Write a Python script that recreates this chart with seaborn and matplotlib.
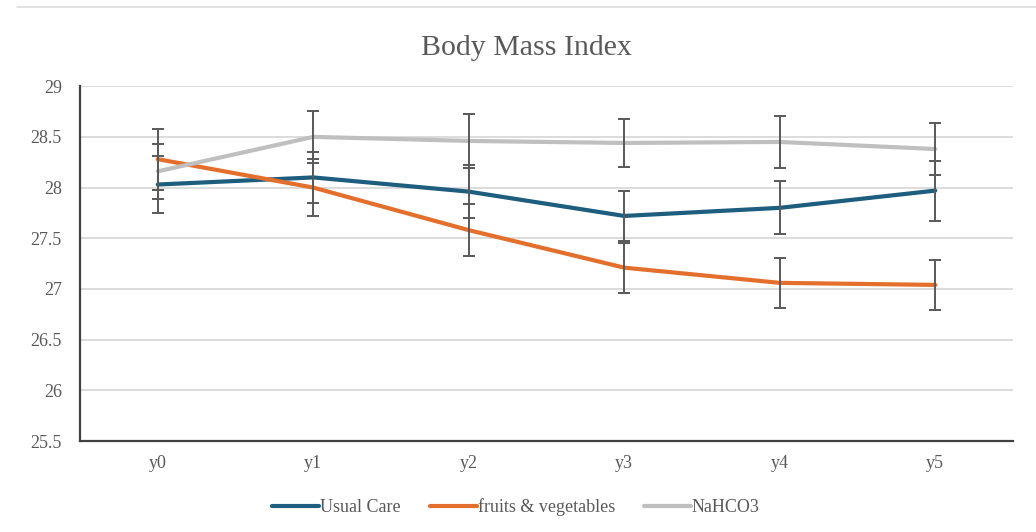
"""
Body Mass Index over follow-up years, by treatment group
"""
import pandas as pd
import matplotlib.pyplot as plt
import matplotlib.lines as mlines
import seaborn as sns

# Data
years = ['y0', 'y1', 'y2', 'y3', 'y4', 'y5']
usual_care = [28.03, 28.10, 27.96, 27.72, 27.80, 27.97]
usual_care_err = [0.28, 0.25, 0.265, 0.245, 0.26, 0.295]
fruits_veg = [28.28, 28.00, 27.58, 27.21, 27.06, 27.04]
fruits_veg_err = [0.30, 0.28, 0.255, 0.245, 0.25, 0.25]
nahco3 = [28.16, 28.50, 28.46, 28.44, 28.45, 28.38]
nahco3_err = [0.27, 0.26, 0.27, 0.24, 0.255, 0.26]

groups = ['Usual Care', 'fruits & vegetables', 'NaHCO3']
colors = ['#1D5D7E', '#E46F2C', '#BFBFBF']

df = pd.concat([
    pd.DataFrame({'year': years, 'x': range(len(years)), 'bmi': usual_care,
                  'err': usual_care_err, 'group': groups[0]}),
    pd.DataFrame({'year': years, 'x': range(len(years)), 'bmi': fruits_veg,
                  'err': fruits_veg_err, 'group': groups[1]}),
    pd.DataFrame({'year': years, 'x': range(len(years)), 'bmi': nahco3,
                  'err': nahco3_err, 'group': groups[2]}),
])

sns.set_style("white")
plt.rcParams['font.family'] = ['Liberation Serif', 'DejaVu Serif']

fig = plt.figure(figsize=(10.36, 5.32), dpi=100)
ax = fig.add_axes([0.0772, 0.171, 0.9006, 0.667])

sns.lineplot(data=df, x='x', y='bmi', hue='group', palette=colors,
             hue_order=groups, linewidth=3, legend=False, ax=ax, zorder=2)

# error bars drawn on top of the lines
for g in groups:
    sub = df[df['group'] == g]
    ax.errorbar(sub['x'], sub['bmi'], yerr=sub['err'], fmt='none',
                ecolor='#595959', elinewidth=1.4, capsize=4, capthick=1.4,
                zorder=3)

ax.set_xlim(-0.5, len(years) - 0.5)
ax.set_ylim(25.5, 29)
ax.set_yticks([25.5, 26, 26.5, 27, 27.5, 28, 28.5, 29])
ax.set_yticklabels(['25.5', '26', '26.5', '27', '27.5', '28', '28.5', '29'])
ax.set_xticks(range(len(years)))
ax.set_xticklabels(years)
ax.set_xlabel('')
ax.set_ylabel('')
ax.grid(axis='y', color='#D9D9D9', linewidth=1.3)
ax.set_axisbelow(True)
ax.tick_params(axis='both', length=0, labelsize=13, colors='#595959')
ax.tick_params(axis='x', pad=10)
ax.tick_params(axis='y', pad=13)
for s in ['top', 'right']:
    ax.spines[s].set_visible(False)
for s in ['left', 'bottom']:
    ax.spines[s].set_color('#404040')
    ax.spines[s].set_linewidth(1.6)

# title is centred on the chart area, not the plot area
fig.text(0.508, 0.909, 'Body Mass Index', fontsize=21.5, color='#595959',
         ha='center', va='center')

handles = [mlines.Line2D([], [], color=c, linewidth=3) for c in colors]
fig.legend(handles, groups, loc='center', bbox_to_anchor=(0.498, 0.047),
           ncol=3, frameon=False, fontsize=13, handlelength=2.6,
           handletextpad=0.05, columnspacing=1.6, labelcolor='#595959')

# thin frame line at the top of the image
fig.add_artist(mlines.Line2D([0.016, 1.0], [0.986, 0.986],
                             color='#DDDDDD', linewidth=1.2))

plt.savefig('out.png', dpi=100)
